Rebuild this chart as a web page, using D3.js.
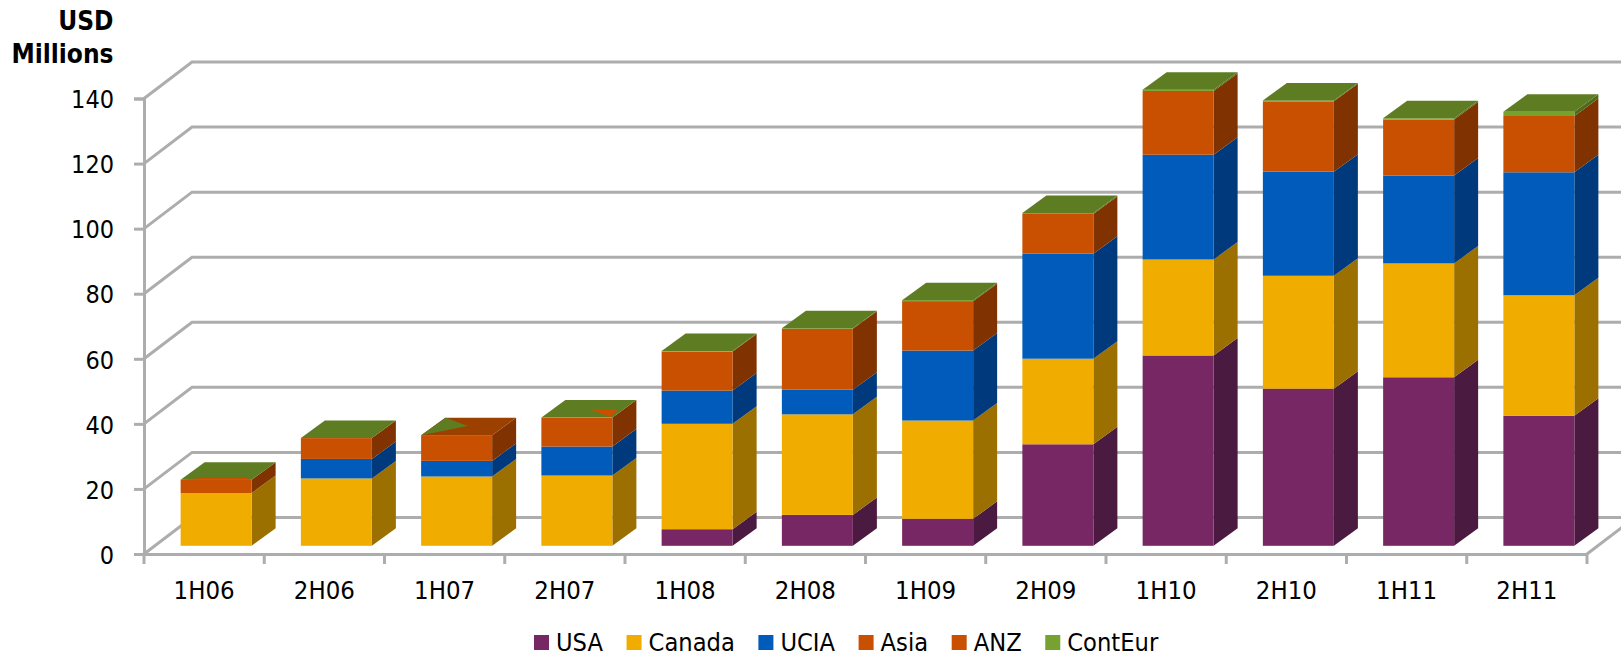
<!DOCTYPE html>
<html><head><meta charset="utf-8">
<script src="https://cdn.jsdelivr.net/npm/d3@7"></script>
<style>html,body{margin:0;padding:0;background:#fff;overflow:hidden}svg{display:block}
text{font-family:"DejaVu Sans Condensed","DejaVu Sans",sans-serif;font-stretch:condensed;fill:#000}</style>
</head><body><svg id="c" width="1621" height="652"></svg>
<script>
const categories=["1H06","2H06","1H07","2H07","1H08","2H08","1H09","2H09","1H10","2H10","1H11","2H11"];
const seriesNames=["USA","Canada","UCIA","Asia","ANZ","ContEur"];
const USA    =[0,0,0,0,5.1,9.5,8.3,31.2,58.5,48.3,51.8,40];
const Canada =[16.2,20.7,21.3,21.6,32.4,30.9,30.2,26.3,29.5,34.7,35,37];
const UCIA   =[0,6,4.8,8.9,10.2,7.6,21.5,32.3,32.2,32,27,37.8];
// Asia and ANZ share one colour in the picture, so only their sum can be read: it is held in Asia.
const Asia   =[4.1,6.4,7.9,8.9,12,18.7,15.2,12.2,19.6,21.6,17.2,17.3];
const ANZ    =[0,0,0,0,0,0,0,0,0,0,0,0];
const ContEur=[0,0,0,0,0.2,0.2,0.3,0.3,0.4,0.3,0.4,1.3];
const yTicks=[0,20,40,60,80,100,120,140];
const values={USA,Canada,UCIA,Asia,ANZ,ContEur};
const frontCol={USA:"#772864",Canada:"#F0AD00",UCIA:"#005BBB",Asia:"#C85000",ANZ:"#C85000",ContEur:"#78A22F"};
const sideCol={USA:"#4A1A40",Canada:"#9C7000",UCIA:"#003A7C",Asia:"#803300",ANZ:"#803300",ContEur:"#4E6A1C"};
const topGreen="#5E7D22",topBrown="#9C4000";

const svg=d3.select("#c");
const left=144,right=1587,front0=554,front140=98.5;
const depthX=48,depthY=36.5,grid="#adadad",lineW=3;
const x=d3.scaleBand().domain(categories).range([left,right]).padding(0);
const y=d3.scaleLinear().domain([0,140]).range([front0,front140]);
const barW=71;
const nudgeX=.25*depthX,nudgeY=8.2,sideX=.5*depthX,sideY=17.5;

// walls
const g=svg.append("g");
g.selectAll("path.g").data(yTicks).join("path").attr("class","g")
 .attr("d",d=>`M${left},${y(d)}L${left+depthX},${y(d)-depthY}L1640,${y(d)-depthY}`)
 .attr("fill","none").attr("stroke",grid).attr("stroke-width",lineW);
g.append("path").attr("d",`M${right},${front0}L${right+depthX},${front0-depthY}`)
 .attr("stroke",grid).attr("stroke-width",lineW).attr("fill","none");

// axes
const ay=svg.append("g").attr("transform",`translate(${left},0)`)
 .call(d3.axisLeft(y).tickValues(yTicks).tickSize(10).tickPadding(20));
const ax=svg.append("g").attr("transform",`translate(0,${front0})`)
 .call(d3.axisBottom(x).tickSize(0).tickPadding(0));
ax.selectAll(".tk").data(d3.range(categories.length+1)).join("line").attr("class","tk")
 .attr("x1",i=>left+i*x.step()).attr("x2",i=>left+i*x.step()).attr("y1",0).attr("y2",10)
 .attr("stroke",grid).attr("stroke-width",lineW);
[ay,ax].forEach(a=>{a.selectAll(".domain").attr("stroke",grid).attr("stroke-width",lineW);
 a.selectAll(".tick line").attr("stroke",grid).attr("stroke-width",lineW);
 a.selectAll("text").attr("font-size",25).style("font-family",'"DejaVu Sans Condensed"').attr("fill","#000");});
ay.selectAll("text").attr("dy","0.37em");
ax.selectAll("text").attr("font-size",25.5).attr("y",45).attr("dy",0);

// bars
const rows=categories.map((c,i)=>{const r={c};seriesNames.forEach(s=>r[s]=values[s][i]);return r;});
const stack=d3.stack().keys(seriesNames)(rows);
const bars=svg.append("g");
const xL=c=>x(c)+x.step()/2-barW/2+nudgeX;
const yV=v=>y(v)-nudgeY;
const pts=a=>a.map(p=>p.join(",")).join(" ");
categories.forEach((c,i)=>{
 const b=bars.append("g"),L=xL(c),R=L+barW;
 stack.forEach(s=>{
  const [a,t]=s[i]; if(t-a<=0) return;
  b.append("polygon").attr("points",pts([[R,yV(a)],[R+sideX,yV(a)-sideY],[R+sideX,yV(t)-sideY],[R,yV(t)]]))
   .attr("fill",sideCol[s.key]);
  b.append("rect").attr("x",L).attr("y",yV(t)).attr("width",barW).attr("height",yV(a)-yV(t)).attr("fill",frontCol[s.key]);
 });
 const T=yV(d3.max(stack,s=>s[i][1]));
 const uv=([u,v])=>[L+u*barW+v*sideX,T-v*sideY];
 const base=c==="1H07"?topBrown:topGreen;
 b.append("polygon").attr("points",pts([[0,0],[1,0],[1,1],[0,1]].map(uv))).attr("fill",base);
 const patches={ "1H07":[[[0,0],[.01,1],[.48,.52]],topGreen],
                 "2H07":[[[.53,.46],[.92,.46],[.96,.04]],"#C85000"],
                 "1H06":[[[.27,.1],[.9,.1],[1,0],[0,0]],"#C85000"]};
 if(patches[c]) b.append("polygon").attr("points",pts(patches[c][0].map(uv))).attr("fill",patches[c][1]);
});

// title
[["USD",30],["Millions",63]].forEach(([t,yy])=>svg.append("text").attr("x",113.5).attr("y",yy)
 .attr("text-anchor","end").attr("font-size",26).attr("font-weight","bold").text(t));

// legend
let lx=534;
seriesNames.forEach(s=>{
 svg.append("rect").attr("x",lx).attr("y",635).attr("width",15).attr("height",15).attr("fill",frontCol[s]);
 const t=svg.append("text").attr("x",lx+22).attr("y",650.5).attr("font-size",25.2).text(s);
 lx+=22+t.node().getComputedTextLength()+23.6;
});
</script></body></html>
